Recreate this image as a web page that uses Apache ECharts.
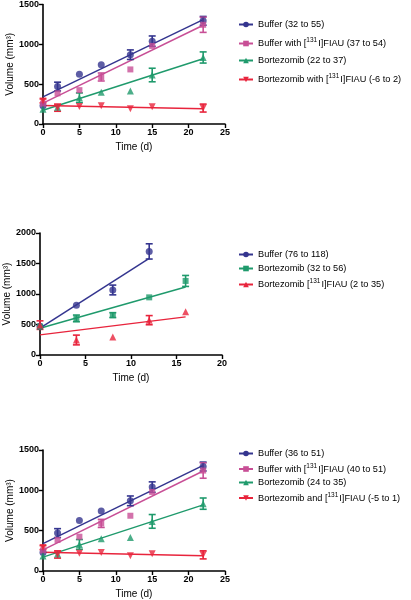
<!DOCTYPE html>
<html><head><meta charset="utf-8">
<script src="https://cdn.jsdelivr.net/npm/echarts@6/dist/echarts.min.js"></script>
<style>html,body{margin:0;padding:0;background:#fff}#c{width:411px;height:600px}</style>
</head><body><div id="c"></div>
<script>
// ---------- Panel 1 & 3 data (same measurements) ----------
const days1 = [0, 2, 5, 8, 12, 15, 22];
const buffer1 = [230, 470, 625, 745, 870, 1040, 1295];
const bufferErr1 = [0, 55, 0, 0, 60, 65, 55];
const bufferFiau1 = [255, 385, 425, 590, 685, 980, 1245];
const bufferFiauErr1 = [0, 0, 0, 50, 0, 0, 95];
const bort1 = [185, 210, 330, 400, 415, 615, 835];
const bortErr1 = [0, 0, 60, 0, 0, 85, 70];
const bortFiau1 = [290, 205, 220, 230, 190, 215, 200];
const bortFiauErr1 = [25, 45, 0, 0, 0, 0, 50];
// regression lines [start day, start value, end day, end value]
const fitBuffer1 = [0, 340, 22, 1310];
const fitBufferFiau1 = [0, 262, 22, 1240];
const fitBort1 = [0, 172, 22, 820];
const fitBortFiau1 = [0, 232, 22, 190];

// ---------- Panel 2 data ----------
const daysBuffer2 = [0, 4, 8, 12];
const buffer2 = [470, 815, 1066, 1698];
const bufferErr2 = [0, 0, 80, 125];
const daysBort2 = [0, 4, 8, 12, 16];
const bort2 = [465, 600, 654, 945, 1214];
const bortErr2 = [0, 55, 40, 0, 90];
const bortFiau2 = [490, 246, 297, 571, 709];
const bortFiauErr2 = [70, 80, 0, 75, 0];
const fitBuffer2 = [0, 440, 12, 1585];
const fitBort2 = [0, 440, 16, 1115];
const fitBortFiau2 = [0, 330, 16, 625];

// ---------- legend labels ----------
const legend1 = ['Buffer (32 to 55)', 'Buffer with [131I]FIAU (37 to 54)', 'Bortezomib (22 to 37)', 'Bortezomib with [131I]FIAU (-6 to 2)'];
const legend2 = ['Buffer (76 to 118)', 'Bortezomib (32 to 56)', 'Bortezomib [131I]FIAU (2 to 35)'];
const legend3 = ['Buffer (36 to 51)', 'Buffer with [131I]FIAU (40 to 51)', 'Bortezomib (24 to 35)', 'Bortezomib and [131I]FIAU (-5 to 1)'];

const yTicks13 = { min: 0, max: 1500, interval: 500 };
const xTicks13 = { min: 0, max: 25, interval: 5 };
const yTicks2 = { min: 0, max: 2000, interval: 500 };
const xTicks2 = { min: 0, max: 20, interval: 5 };

const BLUE = '#34358f', PINK = '#c84f96', GREEN = '#1f9a6c', RED = '#e8243c';
const FONT = "'Liberation Sans', Arial, sans-serif";

const chart = echarts.init(document.getElementById('c'), null, { renderer: 'canvas' });

function zip(xs, ys, es) { return xs.map((x, i) => es ? [x, ys[i], es[i]] : [x, ys[i]]); }

function errSeries(idx, xs, ys, es, color) {
  return {
    type: 'custom', xAxisIndex: idx, yAxisIndex: idx, z: 3, clip: false, silent: true,
    data: zip(xs, ys, es),
    renderItem: function (params, api) {
      const x = api.value(0), y = api.value(1), e = api.value(2);
      if (!e) return null;
      const t = api.coord([x, y + e]), b = api.coord([x, y - e]);
      const w = 3.5;
      const st = { stroke: color, lineWidth: 1.6 };
      return { type: 'group', children: [
        { type: 'line', shape: { x1: t[0], y1: t[1], x2: b[0], y2: b[1] }, style: st },
        { type: 'line', shape: { x1: t[0] - w, y1: t[1], x2: t[0] + w, y2: t[1] }, style: st },
        { type: 'line', shape: { x1: b[0] - w, y1: b[1], x2: b[0] + w, y2: b[1] }, style: st }
      ] };
    }
  };
}
function ptSeries(idx, xs, ys, color, symbol, rot) {
  return { type: 'scatter', xAxisIndex: idx, yAxisIndex: idx, z: 4, clip: false, silent: true,
    symbol: symbol, symbolSize: symbol === 'rect' ? 6 : 7, symbolRotate: rot || 0,
    itemStyle: { color: color }, data: zip(xs, ys) };
}
function fitSeries(idx, name, fit, color, symbol, rot) {
  return { type: 'line', name: name, xAxisIndex: idx, yAxisIndex: idx, z: 2,
    symbol: symbol, symbolSize: 6, symbolRotate: rot || 0, showSymbol: false, silent: true,
    lineStyle: { color: color, width: 1.5 }, itemStyle: { color: color },
    data: [[fit[0], fit[1]], [fit[2], fit[3]]] };
}

function axisCommon() {
  return {
    axisLine: { lineStyle: { color: '#000', width: 1.6 } },
    axisTick: { length: 4, lineStyle: { color: '#000', width: 1.4 } },
    axisLabel: { color: '#000', fontSize: 9, fontWeight: 'bold', fontFamily: FONT, margin: 4,
      formatter: v => String(v) },
    splitLine: { show: false },
    nameTextStyle: { color: '#000', fontSize: 10, fontFamily: FONT }
  };
}
function xAx(idx, t) {
  return Object.assign(axisCommon(), { type: 'value', gridIndex: idx, min: t.min, max: t.max, interval: t.interval,
    name: 'Time (d)', nameLocation: 'middle', nameGap: 18 });
}
function yAx(idx, t) {
  return Object.assign(axisCommon(), { type: 'value', gridIndex: idx, min: t.min, max: t.max, interval: t.interval,
    name: 'Volume (mm³)', nameLocation: 'middle', nameGap: 23 });
}

function legendFmt(name) {
  const i = name.indexOf('[131I]');
  if (i < 0) return '{n|' + name + '}';
  return '{n|' + name.slice(0, i + 1) + '}{s|131}{n|' + name.slice(i + 4) + '}';
}
function legendComp(names, top, gap) {
  return { orient: 'vertical', left: 233, top: top, itemWidth: 14, itemHeight: 7, itemGap: gap,
    data: names, formatter: legendFmt, selectedMode: false,
    textStyle: { color: '#000', fontFamily: FONT, fontSize: 9.2,
      rich: { n: { fontSize: 9.2, fontFamily: FONT, color: '#000' },
              s: { fontSize: 6.5, fontFamily: FONT, color: '#000', padding: [0, 1, 6, 0] } } } };
}

const option = {
  animation: false,
  backgroundColor: '#fff',
  textStyle: { fontFamily: FONT },
  grid: [
    { left: 43, top: 4, width: 182, height: 120 },
    { left: 40, top: 233, width: 182, height: 122 },
    { left: 43, top: 450, width: 182, height: 121 }
  ],
  xAxis: [xAx(0, xTicks13), xAx(1, xTicks2), xAx(2, xTicks13)],
  yAxis: [yAx(0, yTicks13), yAx(1, yTicks2), yAx(2, yTicks13)],
  legend: [legendComp(legend1, 15, 8), legendComp(legend2, 245, 5), legendComp(legend3, 444, 4.5)],
  series: []
};

function panelA(idx, names) {
  option.series.push(
    fitSeries(idx, names[0], fitBuffer1, BLUE, 'circle'),
    fitSeries(idx, names[1], fitBufferFiau1, PINK, 'rect'),
    fitSeries(idx, names[2], fitBort1, GREEN, 'triangle'),
    fitSeries(idx, names[3], fitBortFiau1, RED, 'triangle', 180),
    errSeries(idx, days1, buffer1, bufferErr1, BLUE),
    errSeries(idx, days1, bufferFiau1, bufferFiauErr1, PINK),
    errSeries(idx, days1, bort1, bortErr1, GREEN),
    errSeries(idx, days1, bortFiau1, bortFiauErr1, RED),
    ptSeries(idx, days1, buffer1, BLUE, 'circle'),
    ptSeries(idx, days1, bufferFiau1, PINK, 'rect'),
    ptSeries(idx, days1, bort1, GREEN, 'triangle'),
    ptSeries(idx, days1, bortFiau1, RED, 'triangle', 180)
  );
}
panelA(0, legend1);
option.series.push(
  fitSeries(1, legend2[0], fitBuffer2, BLUE, 'circle'),
  fitSeries(1, legend2[1], fitBort2, GREEN, 'rect'),
  fitSeries(1, legend2[2], fitBortFiau2, RED, 'triangle'),
  errSeries(1, daysBuffer2, buffer2, bufferErr2, BLUE),
  errSeries(1, daysBort2, bort2, bortErr2, GREEN),
  errSeries(1, daysBort2, bortFiau2, bortFiauErr2, RED),
  ptSeries(1, daysBuffer2, buffer2, BLUE, 'circle'),
  ptSeries(1, daysBort2, bort2, GREEN, 'rect'),
  ptSeries(1, daysBort2, bortFiau2, RED, 'triangle')
);
panelA(2, legend3);

chart.setOption(option);
</script></body></html>
